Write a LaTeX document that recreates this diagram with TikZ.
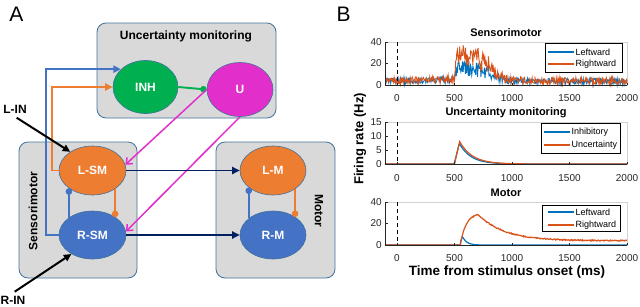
\documentclass[tikz,border=0pt]{standalone}
\usepackage{fontspec}
\setmainfont{Liberation Sans}
\usetikzlibrary{arrows.meta,shapes.geometric}
\definecolor{boxfill}{HTML}{D9D9D9}
\definecolor{boxline}{HTML}{41719C}
\definecolor{smorange}{HTML}{ED7D31}
\definecolor{smblue}{HTML}{4472C4}
\definecolor{inhgreen}{HTML}{00B050}
\definecolor{umag}{HTML}{E22FCB}
\definecolor{navyc}{HTML}{002060}
\definecolor{mblue}{HTML}{0072BD}
\definecolor{morange}{HTML}{D95319}
\definecolor{ticktext}{HTML}{262626}
\begin{document}
\begin{tikzpicture}[x=1pt,y=-1pt,
  module/.style={draw=boxline, fill=boxfill, rounded corners=9pt, line width=0.8pt},
  unit/.style={ellipse, draw=boxline, line width=0.6pt, inner sep=0pt, text=white,
    font=\fontsize{12}{14}\selectfont\bfseries},
  lbl/.style={font=\fontsize{12}{14}\selectfont\bfseries},
  wire/.style={line width=1.9pt},
  dotend/.style={-{Circle[length=6.5pt]}},
  triend/.style={-{Triangle[length=7.5pt,width=7pt]}},
  barbend/.style={-{Straight Barb[length=5pt,width=8.5pt]}},
  panel/.style={font=\fontsize{21}{24}\selectfont},
  ptitle/.style={font=\fontsize{11}{13}\selectfont\bfseries},
  tick/.style={font=\fontsize{10}{12}\selectfont, text=ticktext, inner sep=1pt},
  legtext/.style={font=\fontsize{9}{11}\selectfont, anchor=west, inner sep=0.5pt},
  frame/.style={draw=gray!35, line width=0.5pt},
  axisline/.style={draw=ticktext, line width=0.6pt},
  zeroline/.style={line width=1pt, dash pattern=on 4pt off 3pt},
  declare function={
    clampexp(\a)=exp(-min(\a,20));
    envs(\t)=(1-clampexp(max(\t-500,0)/15))*clampexp(max(\t-780,0)/90);
    basel(\t)=3.8+2*clampexp(abs(\t-500)/300);
    smo(\t)=basel(\t)+24*envs(\t)*(1-0.0011*max(\t-520,0));
    smb(\t)=basel(\t)-0.5+12*envs(\t)*(1-0.0011*max(\t-520,0));
    uo(\t)=8*min(max(\t-500,0)/45,1)*clampexp(max(\t-545,0)/110);
    ub(\t)=7.4*min(max(\t-497,0)/45,1)*clampexp(max(\t-542,0)/100);
    mrise(\t)=1-clampexp(max(\t-550,0)/50);
    mo(\t)=mrise(\t)*(4+25.5*clampexp(max(\t-700,0)/220));
    mb(\t)=8*(1-clampexp(max(\t-550,0)/8))*clampexp(max(\t-570,0)/35);
  }]
\useasboundingbox (0,0) rectangle (640,306);
\pgfmathsetseed{7}

% ---------------- Panel A ----------------
\node[panel] (labA) at (16.5,14.5) {A};

\draw[module] (97,23) rectangle (276,118);
\draw[module] (19,142) rectangle (137,278);
\draw[module] (216,142) rectangle (335,278);

\node[lbl] (umtitle) at (186,36.5) {Uncertainty monitoring};
\node[lbl, rotate=90] (smtitle) at (33,211) {Sensorimotor};
\node[lbl, rotate=-90] (mtitle) at (319,211) {Motor};

\node[unit, fill=inhgreen, minimum width=65pt, minimum height=53pt] (INH) at (145.5,87) {INH};
\node[unit, fill=umag, minimum width=66pt, minimum height=54pt] (U) at (240,89.5) {U};
\node[unit, fill=smorange, minimum width=67pt, minimum height=49pt] (LSM) at (92.5,170.5) {L-SM};
\node[unit, fill=smblue, minimum width=67pt, minimum height=48pt] (RSM) at (92.5,235) {R-SM};
\node[unit, fill=smorange, minimum width=66pt, minimum height=49pt] (LM) at (273,170.5) {L-M};
\node[unit, fill=smblue, minimum width=66pt, minimum height=48pt] (RM) at (273,235) {R-M};

% inputs to INH
\draw[wire, smblue, triend] (RSM.west) -- ++(-13,0) |- (INH.144);
\draw[wire, smorange, triend] (LSM.west) -- ++(-7,0) |- (INH.west);
% INH to U
\draw[wire, inhgreen, dotend] (INH.east) -- (U.west);
% U to sensorimotor
\draw[wire, umag, barbend, line width=1.5pt] (U.west) -- (LSM.10);
\draw[wire, umag, barbend, line width=1.5pt] (U.south) -- (RSM.6);
% sensorimotor to motor
\draw[wire, navyc, triend] (LSM.east) -- (LM.west);
\draw[wire, navyc, triend] (RSM.east) -- (RM.west);
% mutual inhibition
\draw[wire, smblue, dotend] (LSM.217 |- RSM.144) -- (LSM.217);
\draw[wire, smorange, dotend] (LSM.321) -- (LSM.321 |- RSM.38);
\draw[wire, smblue, dotend] (LM.215 |- RM.145) -- (LM.215);
\draw[wire, smorange, dotend] (LM.320) -- (LM.320 |- RM.39);
% external inputs
\node[lbl] (LIN) at (15,109) {L-IN};
\node[lbl] (RIN) at (13,300.5) {R-IN};
\draw[wire, black, triend, line width=2pt, shorten <=2pt] (LIN.south) -- (LSM.140);
\draw[wire, black, triend, line width=2pt, shorten <=2pt] (RIN.north) -- (RSM.222);

% ---------------- Panel B ----------------
\node[panel] (labB) at (343.5,14.5) {B};

% --- Sensorimotor plot
\node[ptitle] (t1) at (506,33) {Sensorimotor};
\draw[frame] (385,42) rectangle (627,85);
\draw[mblue, line width=0.9pt] plot[domain=-100:2000, samples=421]
  ({397+0.115*\x},{85-1.075*min(40,max(0,smb(\x)+(2.8+4*envs(\x))*rand))});
\draw[morange, line width=0.9pt] plot[domain=-100:2000, samples=421]
  ({397+0.115*\x},{85-1.075*min(39,max(0,smo(\x)+(3.2+7*envs(\x))*rand))});
\draw[zeroline] (397,42) -- (397,85);
\draw[axisline] (385,42) -- (385,85) -- (627,85);
\foreach \v in {0,20,40} {
  \draw[axisline] (385,{85-1.075*\v}) -- ++(2.5,0);
  \node[tick, anchor=east] at (383,{85-1.075*\v}) {\v};
}
\foreach \t in {0,500,1000,1500,2000} {
  \draw[axisline] ({397+0.115*\t},85) -- ++(0,-2.5);
  \node[tick] at ({397+0.115*\t},98) {\t};
}
\draw[fill=white, line width=0.6pt] (545,43) rectangle (622,72);
\draw[mblue, line width=1.3pt] (548,52) -- (574,52);
\node[legtext] at (575,52) {Leftward};
\draw[morange, line width=1.3pt] (548,64) -- (574,64);
\node[legtext] at (575,64) {Rightward};

% --- Uncertainty monitoring plot
\node[ptitle] (t2) at (506,113) {Uncertainty monitoring};
\draw[frame] (385,122) rectangle (627,164);
\draw[mblue, line width=1.2pt] plot[domain=-100:2000, samples=421]
  ({397+0.115*\x},{164-2.8*ub(\x)});
\draw[morange, line width=1.2pt] plot[domain=-100:2000, samples=421]
  ({397+0.115*\x},{164-2.8*uo(\x)});
\draw[zeroline] (397,122) -- (397,164);
\draw[axisline] (385,122) -- (385,164) -- (627,164);
\foreach \v in {0,5,10,15} {
  \draw[axisline] (385,{164-2.8*\v}) -- ++(2.5,0);
  \node[tick, anchor=east] at (383,{164-2.8*\v}) {\v};
}
\foreach \t in {0,500,1000,1500,2000} {
  \draw[axisline] ({397+0.115*\t},164) -- ++(0,-2.5);
  \node[tick] at ({397+0.115*\t},178) {\t};
}
\draw[fill=white, line width=0.6pt] (541,123) rectangle (620,153);
\draw[mblue, line width=1.3pt] (544,132) -- (570,132);
\node[legtext] at (571,132) {Inhibitory};
\draw[morange, line width=1.3pt] (544,145) -- (570,145);
\node[legtext] at (571,145) {Uncertainty};

% --- Motor plot
\node[ptitle] (t3) at (506,193) {Motor};
\draw[frame] (385,202) rectangle (627,245);
\draw[mblue, line width=1.2pt] plot[domain=-100:2000, samples=421]
  ({397+0.115*\x},{245-1.075*mb(\x)});
\draw[morange, line width=1.2pt] plot[domain=-100:2000, samples=421]
  ({397+0.115*\x},{245-1.075*max(0,mo(\x)+0.5*mrise(\x)*rand)});
\draw[zeroline] (397,202) -- (397,245);
\draw[axisline] (385,202) -- (385,245) -- (627,245);
\foreach \v in {0,20,40} {
  \draw[axisline] (385,{245-1.075*\v}) -- ++(2.5,0);
  \node[tick, anchor=east] at (383,{245-1.075*\v}) {\v};
}
\foreach \t in {0,500,1000,1500,2000} {
  \draw[axisline] ({397+0.115*\t},245) -- ++(0,-2.5);
  \node[tick] at ({397+0.115*\t},258) {\t};
}
\draw[fill=white, line width=0.6pt] (542,205) rectangle (620,231);
\draw[mblue, line width=1.3pt] (548,212) -- (574,212);
\node[legtext] at (575,212) {Leftward};
\draw[morange, line width=1.3pt] (548,225) -- (574,225);
\node[legtext] at (575,225) {Rightward};

% axis labels
\node[font=\fontsize{13}{15}\selectfont\bfseries, rotate=90] (ylab) at (360,139) {Firing rate (Hz)};
\node[font=\fontsize{13.5}{16}\selectfont\bfseries] (xlab) at (507,272) {Time from stimulus onset (ms)};
\end{tikzpicture}
\end{document}
